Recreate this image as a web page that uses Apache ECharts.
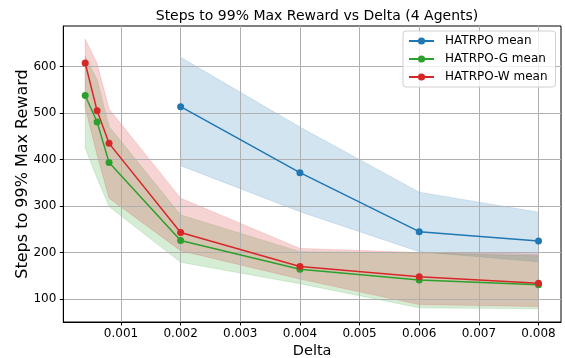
<!DOCTYPE html>
<html>
<head>
<meta charset="utf-8">
<script src="https://cdn.jsdelivr.net/npm/echarts@6/dist/echarts.min.js"></script>
<style>
  html, body { margin: 0; padding: 0; background: #fff; }
  #chart { width: 565px; height: 358px; }
</style>
</head>
<body>
<div id="chart"></div>
<script>
// Delta values for each method
const deltaShort = [0.002, 0.004, 0.006, 0.008];
const deltaLong = [0.0004, 0.0006, 0.0008, 0.002, 0.004, 0.006, 0.008];

// HATRPO: mean steps and spread band
const hatrpoMean = [514, 372, 245, 225];
const hatrpoLow = [387, 288, 202, 180];
const hatrpoHigh = [620, 470, 330, 287];

// HATRPO-G
const hatrpoGMean = [538, 481, 394, 226, 164, 141, 131];
const hatrpoGLow = [425, 360, 299, 179, 133, 81, 79];
const hatrpoGHigh = [622, 572, 471, 281, 202, 199, 193];

// HATRPO-W
const hatrpoWMean = [608, 505, 435, 243, 170, 148, 134];
const hatrpoWLow = [512, 410, 317, 204, 143, 88, 84];
const hatrpoWHigh = [659, 607, 509, 317, 209, 200, 197];

const xTicks = [0.001, 0.002, 0.003, 0.004, 0.005, 0.006, 0.007, 0.008];
const yTicks = [100, 200, 300, 400, 500, 600];

const FONT = 'DejaVu Sans';

function bandSeries(xs, lo, hi, rgb) {
  return {
    type: 'custom',
    z: 0,
    silent: true,
    data: xs.map((x, i) => [x, lo[i], hi[i]]),
    renderItem: function (params, api) {
      if (params.dataIndex !== 0) return null;
      const pts = [];
      for (let i = 0; i < xs.length; i++) pts.push(api.coord([xs[i], hi[i]]));
      for (let i = xs.length - 1; i >= 0; i--) pts.push(api.coord([xs[i], lo[i]]));
      return {
        type: 'polygon',
        shape: { points: pts },
        style: {
          fill: 'rgba(' + rgb + ',0.2)',
          stroke: 'rgba(' + rgb + ',0.2)',
          lineWidth: 0.8
        }
      };
    }
  };
}

function meanSeries(name, xs, ys, color) {
  return {
    name: name,
    type: 'line',
    z: 2,
    data: xs.map((x, i) => [x, ys[i]]),
    symbol: 'circle',
    symbolSize: 7,
    showSymbol: true,
    itemStyle: { color: color },
    lineStyle: { color: color, width: 1.5 },
    emphasis: { disabled: true }
  };
}

const chart = echarts.init(document.getElementById('chart'), null, { renderer: 'canvas' });

chart.setOption({
  animation: false,
  backgroundColor: '#fff',
  title: {
    text: 'Steps to 99% Max Reward vs Delta (4 Agents)',
    left: 312,
    top: 4,
    textAlign: 'center',
    textStyle: { fontFamily: FONT, fontSize: 14, fontWeight: 'normal', color: '#000' }
  },
  legend: {
    orient: 'vertical',
    left: 403,
    top: 31,
    data: ['HATRPO mean', 'HATRPO-G mean', 'HATRPO-W mean'],
    itemWidth: 25,
    itemHeight: 9,
    itemGap: 6,
    padding: [4, 8, 4, 5],
    borderColor: '#d0d0d0',
    borderWidth: 1,
    borderRadius: 3,
    backgroundColor: 'rgba(255,255,255,0.8)',
    textStyle: { fontFamily: FONT, fontSize: 12, color: '#000', padding: [0, 0, 0, 6] }
  },
  grid: {
    left: 63.3,
    right: 4,
    top: 26,
    bottom: 36,
    outerBoundsMode: 'none',
    containLabel: false,
    show: true,
    borderColor: '#000',
    borderWidth: 1,
    backgroundColor: 'transparent'
  },
  xAxis: {
    type: 'value',
    min: 0.000033,
    max: 0.008377,
    z: 1,
    name: 'Delta',
    nameLocation: 'middle',
    nameGap: 22,
    nameMoveOverlap: false,
    nameTextStyle: { fontFamily: FONT, fontSize: 14.5, color: '#000' },
    axisLine: { show: true, lineStyle: { color: '#000', width: 1 } },
    axisTick: { show: true, inside: false, length: 3.5, customValues: xTicks, lineStyle: { color: '#000' } },
    axisLabel: {
      customValues: xTicks,
      margin: 6,
      fontFamily: FONT,
      fontSize: 12,
      color: '#000',
      formatter: v => v.toFixed(3)
    },
    splitLine: { show: true, lineStyle: { color: '#b0b0b0', width: 1 } }
  },
  yAxis: {
    type: 'value',
    min: 50.6,
    max: 687.5,
    z: 1,
    name: 'Steps to 99% Max Reward',
    nameLocation: 'middle',
    nameGap: 32,
    nameMoveOverlap: false,
    nameTextStyle: { fontFamily: FONT, fontSize: 16, color: '#000' },
    axisLine: { show: true, lineStyle: { color: '#000', width: 1 } },
    axisTick: { show: true, inside: false, length: 3.5, customValues: yTicks, lineStyle: { color: '#000' } },
    axisLabel: {
      customValues: yTicks,
      margin: 7,
      fontFamily: FONT,
      fontSize: 12,
      color: '#000'
    },
    splitLine: { show: true, lineStyle: { color: '#b0b0b0', width: 1 } }
  },
  series: [
    bandSeries(deltaShort, hatrpoLow, hatrpoHigh, '31,119,180'),
    bandSeries(deltaLong, hatrpoGLow, hatrpoGHigh, '44,160,44'),
    bandSeries(deltaLong, hatrpoWLow, hatrpoWHigh, '214,39,40'),
    meanSeries('HATRPO mean', deltaShort, hatrpoMean, '#1f77b4'),
    meanSeries('HATRPO-G mean', deltaLong, hatrpoGMean, '#2ca02c'),
    meanSeries('HATRPO-W mean', deltaLong, hatrpoWMean, '#d62728')
  ]
});
</script>
</body>
</html>
